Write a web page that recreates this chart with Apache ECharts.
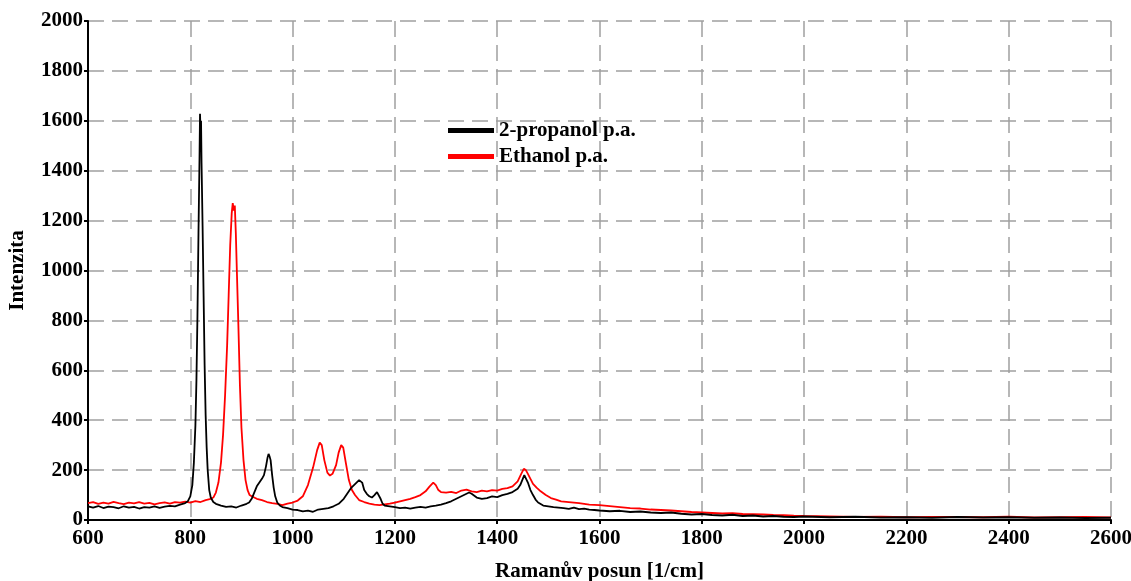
<!DOCTYPE html>
<html>
<head>
<meta charset="utf-8">
<script src="https://cdn.jsdelivr.net/npm/echarts@6/dist/echarts.min.js"></script>
<style>html,body{margin:0;padding:0;background:#fff}#c{width:1131px;height:581px}</style>
</head>
<body>
<div id="c"></div>
<script>
const seriesNames = ['2-propanol p.a.', 'Ethanol p.a.'];
const xTicks = [600, 800, 1000, 1200, 1400, 1600, 1800, 2000, 2200, 2400, 2600];
const yTicks = [0, 200, 400, 600, 800, 1000, 1200, 1400, 1600, 1800, 2000];

const propanol = [
[600,55],[610,50],[620,56],[630,48],[640,54],[650,52],[660,47],[670,55],[680,50],[690,53],[700,46],[710,52],[720,50],[730,55],[740,49],[750,54],[760,57],[770,55],[780,62],[790,68],[795,75],[800,95],[804,140],[807,230],[810,380],[812,560],[814,820],[816,1150],[818,1450],[819,1628],[820,1560],[821,1600],[822,1430],[824,1180],[826,900],[828,620],[830,420],[832,290],[834,200],[837,120],[840,90],[845,72],[850,65],[860,58],[870,53],[880,55],[890,50],[900,58],[910,65],[915,70],[920,85],[925,110],[930,135],[935,150],[940,165],[944,180],[948,215],[951,250],[953,265],[955,255],[957,240],[960,180],[963,130],[966,95],[970,70],[975,58],[980,52],[990,48],[1000,42],[1010,40],[1020,35],[1030,38],[1040,33],[1050,42],[1060,45],[1070,48],[1080,55],[1090,65],[1100,85],[1110,115],[1115,130],[1120,140],[1125,150],[1130,160],[1133,162],[1136,150],[1140,120],[1145,105],[1150,95],[1155,90],[1160,100],[1165,112],[1168,105],[1172,85],[1176,65],[1180,58],[1190,55],[1200,52],[1210,48],[1220,50],[1230,46],[1240,50],[1250,53],[1260,50],[1270,55],[1280,58],[1290,62],[1300,68],[1310,75],[1320,85],[1330,95],[1340,105],[1345,110],[1350,105],[1360,90],[1370,85],[1380,88],[1390,95],[1400,92],[1410,100],[1420,105],[1430,112],[1440,125],[1445,140],[1450,165],[1453,180],[1456,172],[1460,150],[1465,120],[1470,100],[1475,82],[1480,70],[1490,58],[1500,55],[1510,52],[1520,50],[1530,48],[1540,45],[1550,50],[1560,44],[1570,46],[1580,42],[1590,40],[1600,38],[1620,35],[1640,37],[1660,32],[1680,34],[1700,30],[1720,28],[1740,30],[1760,25],[1780,22],[1800,24],[1820,20],[1840,18],[1860,21],[1880,16],[1900,18],[1920,14],[1940,16],[1960,13],[1980,12],[2000,14],[2050,11],[2100,13],[2150,10],[2200,11],[2250,9],[2300,12],[2350,10],[2400,11],[2450,9],[2500,10],[2550,8],[2600,9]
];

const ethanol = [
[600,68],[610,72],[620,65],[630,70],[640,66],[650,73],[660,68],[670,64],[680,70],[690,67],[700,72],[710,66],[720,69],[730,63],[740,68],[750,71],[760,66],[770,72],[780,70],[790,74],[800,70],[810,76],[820,72],[830,80],[840,85],[845,90],[850,110],[855,150],[860,230],[864,340],[868,500],[872,700],[875,900],[878,1100],[881,1230],[883,1270],[885,1240],[887,1260],[889,1150],[891,1000],[894,780],[897,540],[900,370],[904,240],[908,160],[912,120],[916,100],[920,95],[930,85],[940,80],[950,72],[960,68],[970,65],[980,60],[990,66],[1000,70],[1010,78],[1020,95],[1030,140],[1040,210],[1048,280],[1053,310],[1057,300],[1062,240],[1068,190],[1073,178],[1078,185],[1085,220],[1090,270],[1095,300],[1099,290],[1104,230],[1110,160],[1116,120],[1122,100],[1130,80],[1140,72],[1150,66],[1160,62],[1170,60],[1180,63],[1190,66],[1200,70],[1210,75],[1220,80],[1230,85],[1240,92],[1250,100],[1260,115],[1268,135],[1275,150],[1280,140],[1285,120],[1290,112],[1300,110],[1310,113],[1320,108],[1330,118],[1340,122],[1350,115],[1360,112],[1370,118],[1380,115],[1390,120],[1400,118],[1410,125],[1420,128],[1430,135],[1440,155],[1447,185],[1452,205],[1456,200],[1460,185],[1465,165],[1470,145],[1477,130],[1485,115],[1495,100],[1505,88],[1515,82],[1525,75],[1540,72],[1560,68],[1580,62],[1600,60],[1620,56],[1640,52],[1660,48],[1680,46],[1700,42],[1720,40],[1740,38],[1760,35],[1780,32],[1800,30],[1820,28],[1840,26],[1860,27],[1880,24],[1900,23],[1920,22],[1940,20],[1960,19],[1980,17],[2000,16],[2050,14],[2100,12],[2150,13],[2200,11],[2250,12],[2300,12],[2350,11],[2400,13],[2450,10],[2500,11],[2550,12],[2600,10]
];

const font = '"Liberation Serif", "DejaVu Serif", serif';
const chart = echarts.init(document.getElementById('c'), null, {renderer: 'canvas'});
chart.setOption({
  animation: false,
  backgroundColor: '#fff',
  grid: {left: 88, right: 20, top: 21, bottom: 61, containLabel: false, outerBoundsMode: 'none'},
  legend: {
    orient: 'vertical', left: 448, top: 120, padding: 0,
    itemWidth: 46, itemHeight: 5, itemGap: 5,
    icon: 'rect',
    data: seriesNames,
    textStyle: {fontFamily: font, fontWeight: 'bold', fontSize: 21, color: '#000', lineHeight: 21}
  },
  xAxis: {
    type: 'value', min: xTicks[0], max: xTicks[xTicks.length - 1], interval: 200,
    name: 'Ramanův posun [1/cm]', nameLocation: 'middle', nameGap: 41,
    nameTextStyle: {fontFamily: font, fontWeight: 'bold', fontSize: 21, color: '#000'},
    axisLine: {show: true, onZero: false, lineStyle: {color: '#000', width: 2}},
    axisTick: {show: true, length: 4, lineStyle: {color: '#000', width: 2}},
    axisLabel: {fontFamily: font, fontWeight: 'bold', fontSize: 21, color: '#000', margin: 8,
      formatter: v => String(v)},
    splitLine: {show: true, lineStyle: {color: '#a0a0a0', width: 1.5, type: [16, 8]}}
  },
  yAxis: {
    type: 'value', min: yTicks[0], max: yTicks[yTicks.length - 1], interval: 200,
    name: 'Intenzita', nameLocation: 'middle', nameGap: 60,
    nameTextStyle: {fontFamily: font, fontWeight: 'bold', fontSize: 21, color: '#000'},
    axisLine: {show: true, lineStyle: {color: '#000', width: 2}},
    axisTick: {show: true, length: 4, lineStyle: {color: '#000', width: 2}},
    axisLabel: {fontFamily: font, fontWeight: 'bold', fontSize: 21, color: '#000', margin: 5,
      formatter: v => String(v)},
    splitLine: {show: true, lineStyle: {color: '#a0a0a0', width: 1.5, type: [16, 8]}}
  },
  series: [
    {name: seriesNames[0], type: 'line', data: propanol, showSymbol: false, symbol: 'none',
     color: '#000', lineStyle: {color: '#000', width: 1.8}, z: 3},
    {name: seriesNames[1], type: 'line', data: ethanol, showSymbol: false, symbol: 'none',
     color: '#ff0000', lineStyle: {color: '#ff0000', width: 1.8}, z: 2}
  ]
});
</script>
</body>
</html>
